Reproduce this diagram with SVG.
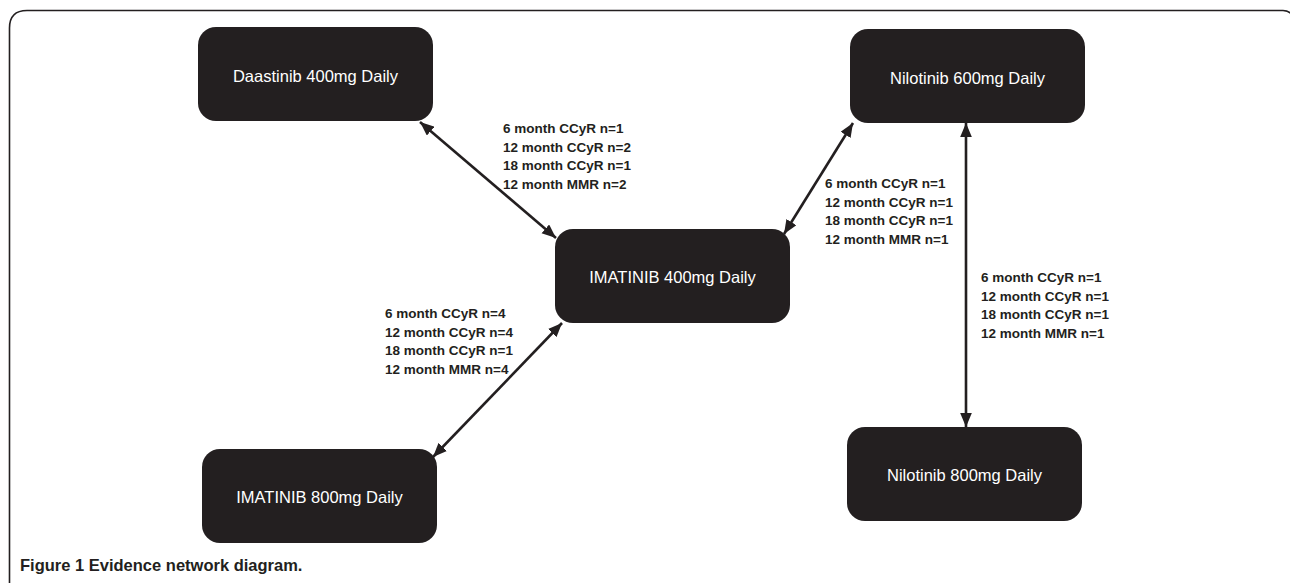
<svg xmlns="http://www.w3.org/2000/svg" width="1290" height="583" viewBox="0 0 1290 583">
  <style>
    .node rect { fill: #231f20; }
    .node text { fill: #ffffff; font-family: "Liberation Sans", Arial, sans-serif; font-size: 16.5px; text-anchor: middle; }
    .lbl { fill: #231f20; font-family: "Liberation Sans", Arial, sans-serif; font-size: 13.5px; font-weight: bold; }
    .conn line { stroke: #231f20; stroke-width: 2.6; }
    .cap { fill: #231f20; font-family: "Liberation Sans", Arial, sans-serif; font-size: 16.5px; font-weight: bold; }
  </style>
  <defs>
    <marker id="ah" markerUnits="userSpaceOnUse" markerWidth="14" markerHeight="12" refX="12" refY="5" orient="auto-start-reverse" viewBox="0 0 12 10">
      <path d="M0,0 L12,5 L0,10 Z" fill="#231f20"/>
    </marker>
  </defs>
  <rect x="0" y="0" width="1290" height="583" fill="#ffffff"/>
  <path d="M 9.5 583 V 28 Q 9.5 10.5 27 10.5 H 1283 Q 1289 10.5 1292 15" fill="none" stroke="#231f20" stroke-width="1.6"/>

  <g id="connectors" class="conn">
    <line x1="420" y1="122" x2="556" y2="238" marker-start="url(#ah)" marker-end="url(#ah)"/>
    <line x1="853" y1="123" x2="784" y2="234" marker-start="url(#ah)" marker-end="url(#ah)"/>
    <line x1="562" y1="323" x2="433" y2="457" marker-start="url(#ah)" marker-end="url(#ah)"/>
    <line x1="966" y1="123" x2="966" y2="427" marker-start="url(#ah)" marker-end="url(#ah)"/>
  </g>

  <g id="node-dasatinib400" class="node">
    <rect x="198" y="27" width="235" height="94" rx="18"/>
    <text x="315.5" y="82">Daastinib 400mg Daily</text>
  </g>
  <g id="node-nilotinib600" class="node">
    <rect x="850" y="29" width="235" height="94" rx="18"/>
    <text x="967.5" y="84">Nilotinib 600mg Daily</text>
  </g>
  <g id="node-imatinib400" class="node">
    <rect x="555" y="229" width="235" height="94" rx="18"/>
    <text x="672.5" y="283">IMATINIB 400mg Daily</text>
  </g>
  <g id="node-imatinib800" class="node">
    <rect x="202" y="449" width="235" height="94" rx="18"/>
    <text x="319.5" y="503">IMATINIB 800mg Daily</text>
  </g>
  <g id="node-nilotinib800" class="node">
    <rect x="847" y="427" width="235" height="94" rx="18"/>
    <text x="964.5" y="481">Nilotinib 800mg Daily</text>
  </g>

  <g id="labels">
    <text class="lbl" x="503" y="133">6 month CCyR n=1</text>
    <text class="lbl" x="503" y="151.5">12 month CCyR n=2</text>
    <text class="lbl" x="503" y="170">18 month CCyR n=1</text>
    <text class="lbl" x="503" y="188.5">12 month MMR n=2</text>

    <text class="lbl" x="825" y="188">6 month CCyR n=1</text>
    <text class="lbl" x="825" y="206.5">12 month CCyR n=1</text>
    <text class="lbl" x="825" y="225">18 month CCyR n=1</text>
    <text class="lbl" x="825" y="243.5">12 month MMR n=1</text>

    <text class="lbl" x="385" y="318">6 month CCyR n=4</text>
    <text class="lbl" x="385" y="336.5">12 month CCyR n=4</text>
    <text class="lbl" x="385" y="355">18 month CCyR n=1</text>
    <text class="lbl" x="385" y="373.5">12 month MMR n=4</text>

    <text class="lbl" x="981" y="282">6 month CCyR n=1</text>
    <text class="lbl" x="981" y="300.5">12 month CCyR n=1</text>
    <text class="lbl" x="981" y="319">18 month CCyR n=1</text>
    <text class="lbl" x="981" y="337.5">12 month MMR n=1</text>
  </g>

  <text class="cap" x="20" y="571">Figure 1 Evidence network diagram.</text>
</svg>
